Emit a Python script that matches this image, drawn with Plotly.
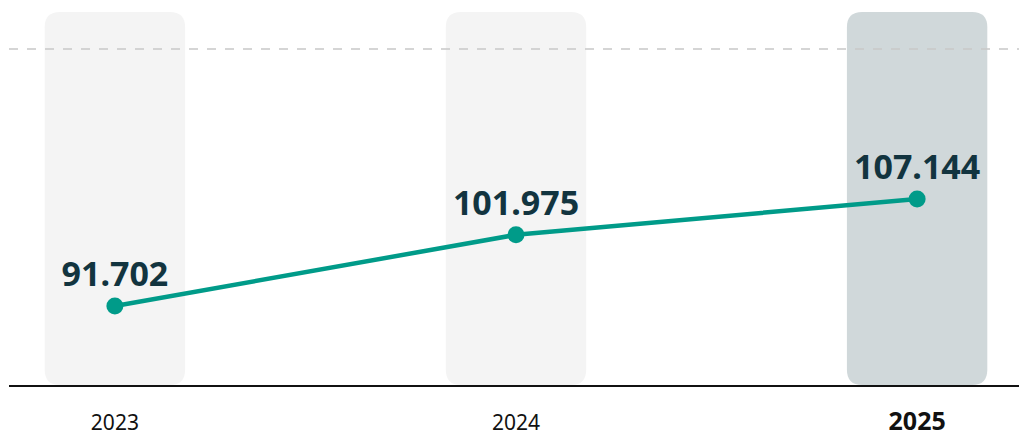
import plotly.graph_objects as go

years = ["2023", "2024", "2025"]
values = [91.702, 101.975, 107.144]
value_labels = ["91.702", "101.975", "107.144"]
tick_labels = ["2023", "2024", "<span style='font-size:25px'><b>2025</b></span>"]
band_colors = ["#f4f4f4", "#f4f4f4", "#d0d8da"]

LINE = "#009b89"
TEXT = "#12343f"

fig = go.Figure()

# rounded background bands (per category index)
hw = 0.175
rx = 0.038
ry = 0.041
for i, c in enumerate(band_colors):
    x0, x1 = i - hw, i + hw
    y0, y1 = 0.0, 1.0
    path = (f"M {x0+rx},{y0} L {x1-rx},{y0} Q {x1},{y0} {x1},{y0+ry} "
            f"L {x1},{y1-ry} Q {x1},{y1} {x1-rx},{y1} "
            f"L {x0+rx},{y1} Q {x0},{y1} {x0},{y1-ry} "
            f"L {x0},{y0+ry} Q {x0},{y0} {x0+rx},{y0} Z")
    fig.add_shape(type="path", path=path, xref="x", yref="paper",
                  fillcolor=c, line=dict(width=0), layer="below")

# dashed reference line
fig.add_shape(type="line", xref="paper", yref="paper", x0=0, x1=1, y0=0.901, y1=0.901,
              line=dict(color="#c8c8c8", width=1.5, dash="dash"), layer="below")

fig.add_trace(go.Scatter(
    x=list(range(len(years))), y=values, mode="lines+markers+text",
    line=dict(color=LINE, width=4.5),
    marker=dict(color=LINE, size=17),
    text=value_labels, textposition="top center",
    textfont=dict(family="Noto Sans", size=34, color=TEXT, weight="bold"),
    cliponaxis=False, hoverinfo="skip"))

fig.update_layout(
    width=1019, height=437,
    margin=dict(l=9, r=0, t=12, b=52, autoexpand=False),
    paper_bgcolor="white", plot_bgcolor="rgba(0,0,0,0)",
    showlegend=False,
    font=dict(family="Noto Sans", color="#111111"),
)
fig.update_xaxes(
    range=[-0.264, 2.254], tickvals=list(range(len(years))), ticktext=tick_labels,
    showgrid=False, zeroline=False, showline=True, linecolor="#111111", linewidth=2,
    ticks="outside", ticklen=18, tickcolor="rgba(0,0,0,0)", automargin=False,
    tickfont=dict(size=21, color="#111111"), fixedrange=True)
fig.update_yaxes(range=[80.30, 134.13], visible=False, fixedrange=True, automargin=False)

fig.write_html("out.html", config={"displayModeBar": False},
               post_script="document.body.style.margin='0';document.body.style.overflow='hidden';")
